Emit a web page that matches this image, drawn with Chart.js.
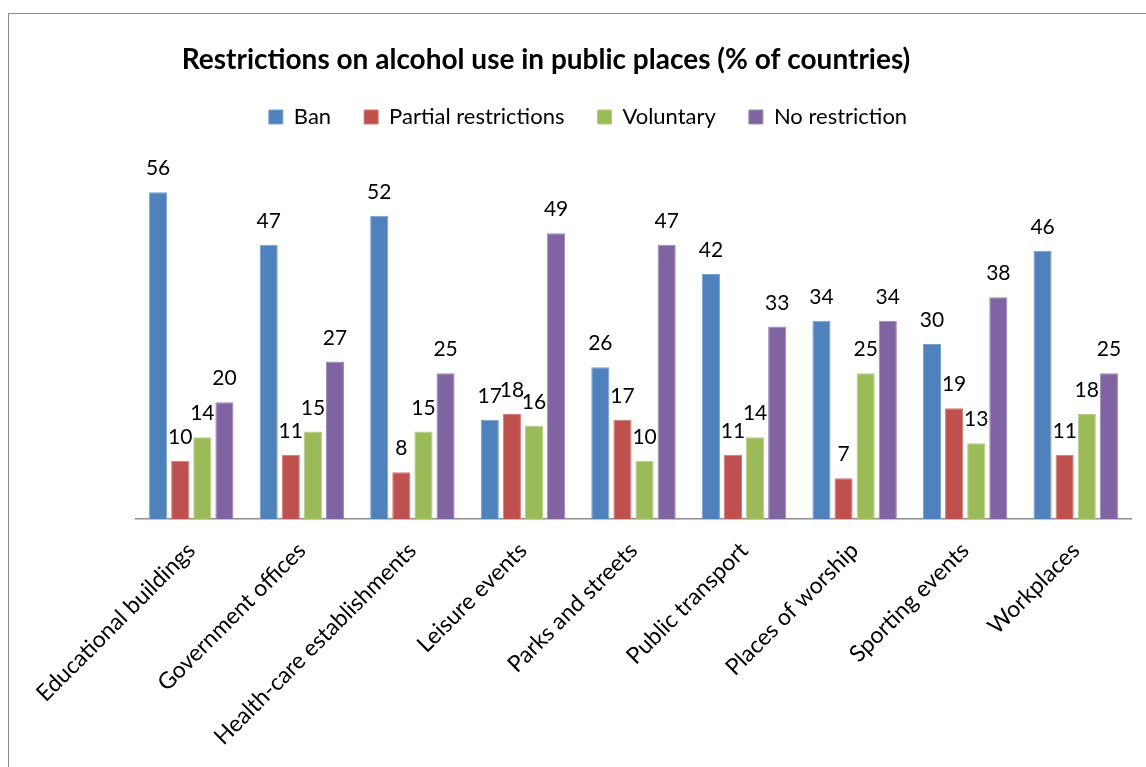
<!DOCTYPE html>
<html>
<head>
<meta charset="utf-8">
<script src="https://cdn.jsdelivr.net/npm/chart.js@4"></script>
<style>
    html, body { margin: 0; padding: 0; background: #fff; overflow: hidden; }
    #frame {
        position: absolute; left: 8px; top: 13px;
        width: 1200px; height: 800px;
        border: 1.5px solid #8c8c8c;
    }
    #chart { position: absolute; left: 0; top: 0; }
</style>
</head>
<body>
<div id="frame"></div>
<canvas id="chart" width="1146" height="767"></canvas>
<script>
// Chart data
const categories = [
    'Educational buildings', 'Government offices', 'Health-care establishments',
    'Leisure events', 'Parks and streets', 'Public transport',
    'Places of worship', 'Sporting events', 'Workplaces'
];
const banValues = [56, 47, 52, 17, 26, 42, 34, 30, 46];
const partialValues = [10, 11, 8, 18, 17, 11, 7, 19, 11];
const voluntaryValues = [14, 15, 15, 16, 10, 14, 25, 13, 18];
const noRestrictionValues = [20, 27, 25, 49, 47, 33, 34, 38, 25];

const chartTitle = 'Restrictions on alcohol use in public places (% of countries)';
const FONT = 'Lato, "Noto Sans", sans-serif';

// Title drawn by hand (it sits off-centre from the legend in the original)
const titlePlugin = {
    id: 'offsetTitle',
    afterDraw(chart) {
        const ctx = chart.ctx;
        ctx.save();
        ctx.font = 'bold 28px ' + FONT;
        ctx.fillStyle = '#000';
        ctx.textAlign = 'center';
        ctx.textBaseline = 'middle';
        ctx.fillText(chartTitle, 546, 60);
        ctx.restore();
    }
};

// Value labels above each bar
const valueLabels = {
    id: 'valueLabels',
    afterDatasetsDraw(chart) {
        const ctx = chart.ctx;
        ctx.save();
        ctx.font = '21px ' + FONT;
        ctx.fillStyle = '#000';
        ctx.textAlign = 'center';
        ctx.textBaseline = 'alphabetic';
        chart.data.datasets.forEach((ds, i) => {
            chart.getDatasetMeta(i).data.forEach((bar, j) => {
                ctx.fillText(String(ds.data[j]), bar.x, bar.y - 17);
            });
        });
        ctx.restore();
    }
};

// Give the legend a fixed height so the plot starts where it should
const legendHeight = {
    id: 'legendHeight',
    beforeInit(chart) {
        const legend = chart.legend;
        if (!legend) return;
        const origFit = legend.fit;
        legend.fit = function () {
            origFit.call(this);
            this.height = 96;
        };
    }
};

function makeDataset(label, data, color, edge) {
    return {
        label: label,
        data: data,
        backgroundColor: color,
        borderColor: edge,
        borderWidth: 1,
        barPercentage: 0.82,
        categoryPercentage: 0.8
    };
}

new Chart(document.getElementById('chart'), {
    type: 'bar',
    data: {
        labels: categories,
        datasets: [
            makeDataset('Ban', banValues, '#4F81BD', '#7a9fcc'),
            makeDataset('Partial restrictions', partialValues, '#C0504D', '#cf7a78'),
            makeDataset('Voluntary', voluntaryValues, '#9BBB59', '#b4cc82'),
            makeDataset('No restriction', noRestrictionValues, '#8064A2', '#9d87b8')
        ]
    },
    options: {
        responsive: false,
        animation: false,
        layout: { padding: { left: 45, right: 15, top: 73, bottom: 0 } },
        plugins: {
            title: { display: false },
            tooltip: { enabled: false },
            legend: {
                display: true,
                position: 'top',
                labels: {
                    font: { family: FONT, size: 22 },
                    color: '#000',
                    boxWidth: 14,
                    boxHeight: 14,
                    padding: 33
                }
            }
        },
        scales: {
            x: {
                grid: { display: false, drawTicks: false },
                border: { display: true, color: '#8c8c8c', width: 1.5 },
                ticks: {
                    color: '#000',
                    font: { family: FONT, size: 23 },
                    minRotation: 45,
                    maxRotation: 45,
                    autoSkip: false,
                    padding: 18
                },
                afterFit(scale) {
                    scale.height = 248;
                    scale.paddingLeft = 0;
                    scale.paddingRight = 0;
                }
            },
            y: {
                min: 0,
                max: 60,
                grid: { display: false, drawTicks: false },
                border: { display: false },
                ticks: { display: false },
                afterFit(scale) {
                    scale.width = 91;
                }
            }
        }
    },
    plugins: [titlePlugin, valueLabels, legendHeight]
});
</script>
</body>
</html>
